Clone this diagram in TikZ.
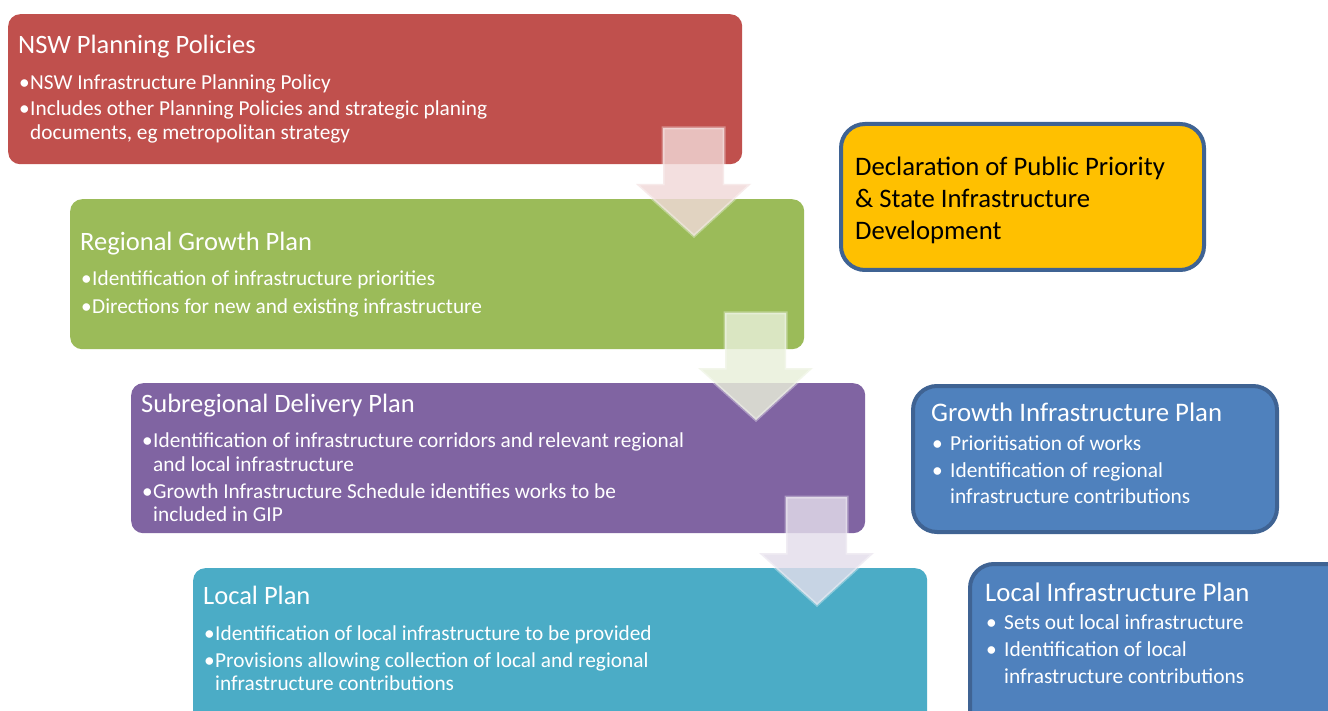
\documentclass[tikz,border=0pt]{standalone}
\usepackage{fontspec}
\setmainfont{Carlito}
\definecolor{cred}{HTML}{C0504D}
\definecolor{cgreen}{HTML}{9BBB59}
\definecolor{cpurple}{HTML}{8064A2}
\definecolor{cteal}{HTML}{4BACC6}
\definecolor{cblue}{HTML}{4F81BD}
\definecolor{cborder}{HTML}{3F6393}
\definecolor{cyellow}{HTML}{FFC000}
\begin{document}
\begin{tikzpicture}[x=1pt,y=-1pt,
  lbox/.style={rounded corners=12pt, anchor=north west, minimum width=734pt, minimum height=150pt, inner sep=0, draw=none},
  rbox/.style={rounded corners=24pt, anchor=north west, draw=cborder, line width=4pt, inner sep=0},
  ttl/.style={anchor=base west, text=white, font=\fontsize{26.5}{30}\selectfont, inner sep=0},
  txt/.style={anchor=base west, text=white, font=\fontsize{21.3}{25}\selectfont, inner sep=0},
  bul/.style={anchor=base east, text=white, font=\fontsize{21.3}{25}\selectfont, inner sep=0},
  rttl/.style={anchor=base west, text=white, font=\fontsize{26.8}{30}\selectfont, inner sep=0},
  rtxt/.style={anchor=base west, text=white, font=\fontsize{21.4}{25}\selectfont, inner sep=0},
  ytxt/.style={anchor=base west, text=black, font=\fontsize{26.7}{31}\selectfont, inner sep=0},
  flow/.style={line width=3pt, draw=white, draw opacity=0.35, fill opacity=0.82, line join=miter},
]
\clip (0,0) rectangle (1328,711);
\fill[white] (0,0) rectangle (1328,711);

% left boxes
\node[lbox, fill=cred] (red) at (8,14) {};
\node[lbox, fill=cgreen] (green) at (70,199) {};
\node[lbox, fill=cpurple] (purple) at (131,383) {};
\node[lbox, fill=cteal, minimum height=170pt] (teal) at (193,568) {};

% red text
\node[ttl] (redT) at (18,54) {NSW Planning Policies};
\node[bul] (redB1) at (30,90) {•};
\node[txt] (redL1) at (30,90) {NSW Infrastructure Planning Policy};
\node[bul] (redB2) at (30,116) {•};
\node[txt] (redL2) at (30,116) {Includes other Planning Policies and strategic planing};
\node[txt] (redL3) at (30,140) {documents, eg metropolitan strategy};

% green text
\node[ttl] (greenT) at (80,251) {Regional Growth Plan};
\node[bul] (greenB1) at (92,286) {•};
\node[txt] (greenL1) at (92,286) {Identification of infrastructure priorities};
\node[bul] (greenB2) at (92,313) {•};
\node[txt] (greenL2) at (92,313) {Directions for new and existing infrastructure};

% purple text
\node[ttl] (purpleT) at (141,412) {Subregional Delivery Plan};
\node[bul] (purpleB1) at (153,447) {•};
\node[txt] (purpleL1) at (153,447) {Identification of infrastructure corridors and relevant regional};
\node[txt] (purpleL2) at (153,471) {and local infrastructure};
\node[bul] (purpleB2) at (153,498) {•};
\node[txt] (purpleL3) at (153,498) {Growth Infrastructure Schedule identifies works to be};
\node[txt] (purpleL4) at (153,521) {included in GIP};

% teal text
\node[ttl] (tealT) at (203,604) {Local Plan};
\node[bul] (tealB1) at (215,640) {•};
\node[txt] (tealL1) at (215,640) {Identification of local infrastructure to be provided};
\node[bul] (tealB2) at (215,667) {•};
\node[txt] (tealL2) at (215,667) {Provisions allowing collection of local and regional};
\node[txt] (tealL3) at (215,690) {infrastructure contributions};

% arrows
\path[flow, fill=cred!22!white] (663,128) -- (724,128) -- (724,184) -- (751,184) -- (694,236) -- (636,184) -- (663,184) -- cycle;
\path[flow, fill=cgreen!22!white] (725,313) -- (786,313) -- (786,368) -- (813,368) -- (756,420) -- (698,368) -- (725,368) -- cycle;
\path[flow, fill=cpurple!22!white] (786,497) -- (847,497) -- (847,553) -- (874,553) -- (817,605) -- (759,553) -- (786,553) -- cycle;

% right boxes
\node[rbox, fill=cyellow, minimum width=363pt, minimum height=146pt] (decl) at (839,122) {};
\node[ytxt] (declL1) at (855,176) {Declaration of Public Priority};
\node[ytxt] (declL2) at (855,208) {\& State Infrastructure};
\node[ytxt] (declL3) at (855,240) {Development};

\node[rbox, fill=cblue, minimum width=364pt, minimum height=146pt] (gip) at (911,384) {};
\node[rttl] (gipT) at (931,421) {Growth Infrastructure Plan};
\node[rtxt] (gipB1) at (932,450) {•};
\node[rtxt] (gipL1) at (950,450) {Prioritisation of works};
\node[rtxt] (gipB2) at (932,477) {•};
\node[rtxt] (gipL2) at (950,477) {Identification of regional};
\node[rtxt] (gipL3) at (950,503) {infrastructure contributions};

\node[rbox, fill=cblue, minimum width=380pt, minimum height=170pt] (lip) at (968,562) {};
\node[rttl] (lipT) at (985,601) {Local Infrastructure Plan};
\node[rtxt] (lipB1) at (986,629) {•};
\node[rtxt] (lipL1) at (1004,629) {Sets out local infrastructure};
\node[rtxt] (lipB2) at (986,656) {•};
\node[rtxt] (lipL2) at (1004,656) {Identification of local};
\node[rtxt] (lipL3) at (1004,683) {infrastructure contributions};
\end{tikzpicture}
\end{document}
